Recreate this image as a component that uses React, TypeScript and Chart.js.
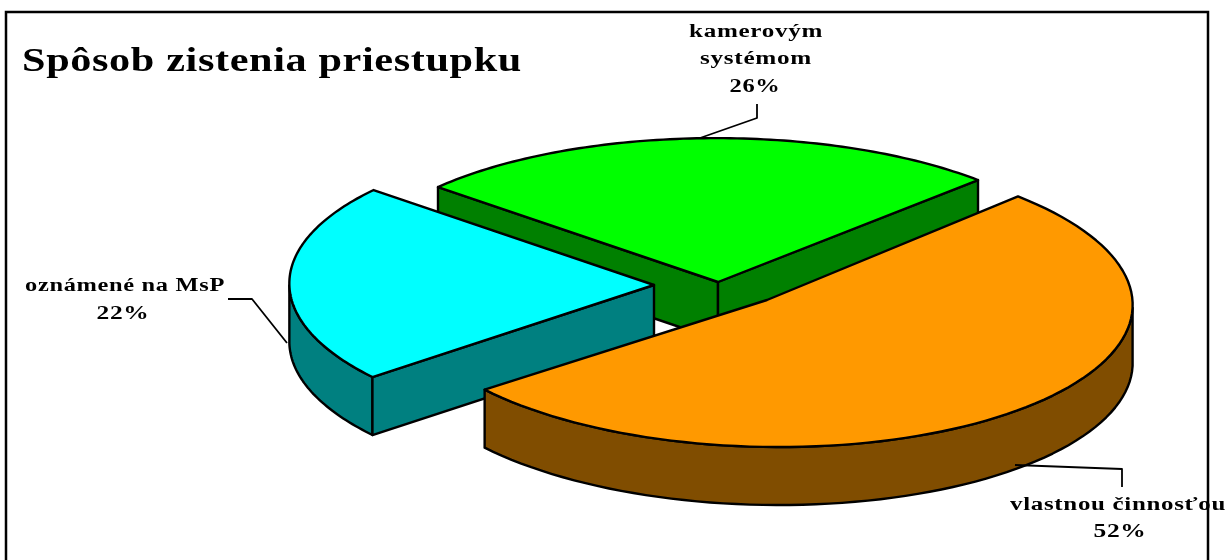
import React, { useEffect, useRef } from "react";
import { Chart, registerables } from "chart.js";

Chart.register(...registerables);

const titleText = "Spôsob zistenia priestupku";
const categories = ["vlastnou činnosťou", "oznámené na MsP", "kamerovým systémom"];
const labelLines = [["vlastnou činnosťou"], ["oznámené na MsP"], ["kamerovým", "systémom"]];
const values = [52, 22, 26];
const topColors = ["#FF9900", "#00FFFF", "#00FF00"];
const wallColors = ["#804D00", "#008080", "#008000"];

// drawing geometry (not data): per-slice projection of the unit sector onto the page
const R = 100;
const DEPTH = 58;
const views = [
  { a: [767, 300], u: [365, -4], v: [22, 147] },
  { a: [654, 285], u: [364, -7.3], v: [22, 146.5] },
  { a: [718, 282], u: [370.4, -4.8], v: [14.6, 143.8] },
];
const labelBoxes = [
  { lines: [{ cx: 1118, y: 510, w: 216 }, { cx: 1120, y: 537, w: 53 }], leader: [[1015, 465], [1122, 469], [1122, 487]] },
  { lines: [{ cx: 125, y: 291, w: 200 }, { cx: 123, y: 319, w: 53 }], leader: [[228, 299], [252, 299], [287, 343]] },
  { lines: [{ cx: 756, y: 37, w: 134 }, { cx: 756, y: 64, w: 112 }, { cx: 755, y: 92, w: 51 }], leader: [[700, 138], [757, 118], [757, 104]] },
];

type Pt = [number, number];
const pointAt = (i: number, t: number): Pt => {
  const { a, u, v } = views[i];
  return [a[0] + u[0] * Math.cos(t) + v[0] * Math.sin(t), a[1] + u[1] * Math.cos(t) + v[1] * Math.sin(t)];
};
const samples = (s: number, e: number, n = 90) => Array.from({ length: n + 1 }, (_, k) => s + ((e - s) * k) / n);

function poly(ctx: CanvasRenderingContext2D, pts: Pt[], fill: string | null, close = true) {
  ctx.beginPath();
  pts.forEach((p, k) => (k ? ctx.lineTo(p[0], p[1]) : ctx.moveTo(p[0], p[1])));
  if (close) ctx.closePath();
  if (fill) {
    ctx.fillStyle = fill;
    ctx.fill();
  }
  ctx.stroke();
}

function text(ctx: CanvasRenderingContext2D, s: string, cx: number, y: number, w: number, font: string, spacing: string) {
  ctx.save();
  ctx.font = font;
  (ctx as any).letterSpacing = spacing;
  ctx.textAlign = "left";
  ctx.textBaseline = "alphabetic";
  ctx.fillStyle = "#000";
  const m = ctx.measureText(s).width;
  ctx.translate(cx - w / 2, y);
  ctx.scale(w / m, 1);
  ctx.fillText(s, 0, 0);
  ctx.restore();
}

const pie3d = {
  id: "pie3d",
  beforeDatasetsDraw(chart: any) {
    const ctx: CanvasRenderingContext2D = chart.ctx;
    const arcs = chart.getDatasetMeta(0).data;
    ctx.save();
    ctx.fillStyle = "#fff";
    ctx.fillRect(0, 0, chart.width, chart.height);
    ctx.strokeStyle = "#000";
    ctx.lineWidth = 2.5;
    ctx.beginPath();
    ctx.moveTo(6, chart.height + 5);
    ctx.lineTo(6, 12);
    ctx.lineTo(1208, 12);
    ctx.lineTo(1208, chart.height + 5);
    ctx.stroke();
    ctx.lineWidth = 2.4;
    ctx.lineJoin = "round";
    [2, 1, 0].forEach((i) => {
      const arc = arcs[i];
      if (!arc.__wrapped) {
        const orig = arc.draw;
        arc.__wrapped = true;
        arc.draw = function (c: CanvasRenderingContext2D, area: any) {
          const { a, u, v } = views[i];
          this.x = 0;
          this.y = 0;
          c.save();
          c.transform(u[0] / R, u[1] / R, v[0] / R, v[1] / R, a[0], a[1]);
          orig.call(this, c, area);
          c.restore();
        };
      }
      const s = arc.startAngle;
      const e = arc.endAngle;
      const A = views[i].a as Pt;
      const down = (p: Pt): Pt => [p[0], p[1] + DEPTH];
      const M = pointAt(i, (s + e) / 2);
      // curved rim: only the part turned toward the viewer
      const { u, v } = views[i];
      const rim = samples(s, e).filter((t) => -u[0] * Math.sin(t) + v[0] * Math.cos(t) < 0).map((t) => pointAt(i, t));
      if (rim.length > 1) poly(ctx, [...rim, ...rim.map(down).reverse()], wallColors[i]);
      // flat cut faces that look toward the viewer
      [s, e].forEach((t) => {
        const P = pointAt(i, t);
        const lineY = A[1] + ((P[1] - A[1]) * (M[0] - A[0])) / (P[0] - A[0]);
        if (M[1] < lineY) poly(ctx, [A, P, down(P), down(A)], wallColors[i]);
      });
    });
    ctx.restore();
  },
  afterDatasetsDraw(chart: any) {
    const ctx: CanvasRenderingContext2D = chart.ctx;
    const arcs = chart.getDatasetMeta(0).data;
    ctx.save();
    ctx.strokeStyle = "#000";
    ctx.lineWidth = 2.4;
    ctx.lineJoin = "round";
    arcs.forEach((arc: any, i: number) => {
      const pts = samples(arc.startAngle, arc.endAngle).map((t) => pointAt(i, t));
      poly(ctx, [views[i].a as Pt, ...pts], null);
    });
    labelBoxes.forEach((box, i) => {
      ctx.lineWidth = 1.8;
      poly(ctx, box.leader as Pt[], null, false);
      const lines = [...labelLines[i], `${values[i]}%`];
      lines.forEach((s, k) => {
        const l = box.lines[k];
        text(ctx, s, l.cx, l.y, l.w, "bold 18px 'Liberation Serif'", "0.5px");
      });
    });
    text(ctx, titleText, 272, 71, 500, "bold 34px 'Liberation Serif'", "0.5px");
    ctx.restore();
  },
};

export default function App() {
  const ref = useRef<HTMLCanvasElement>(null);
  useEffect(() => {
    const chart = new Chart(ref.current!, {
      type: "pie",
      data: {
        labels: categories,
        datasets: [
          {
            data: values,
            backgroundColor: topColors,
            borderWidth: 0,
            clip: false as any,
          },
        ],
      },
      options: {
        animation: false,
        responsive: false,
        rotation: 46.8,
        radius: R,
        plugins: { legend: { display: false }, tooltip: { enabled: false }, title: { display: false } },
      },
      plugins: [pie3d],
    });
    return () => chart.destroy();
  }, []);
  return (
    <canvas
      ref={ref}
      width={1228}
      height={560}
      style={{ position: "fixed", left: 0, top: 0, width: 1228, height: 560, display: "block" }}
    />
  );
}
